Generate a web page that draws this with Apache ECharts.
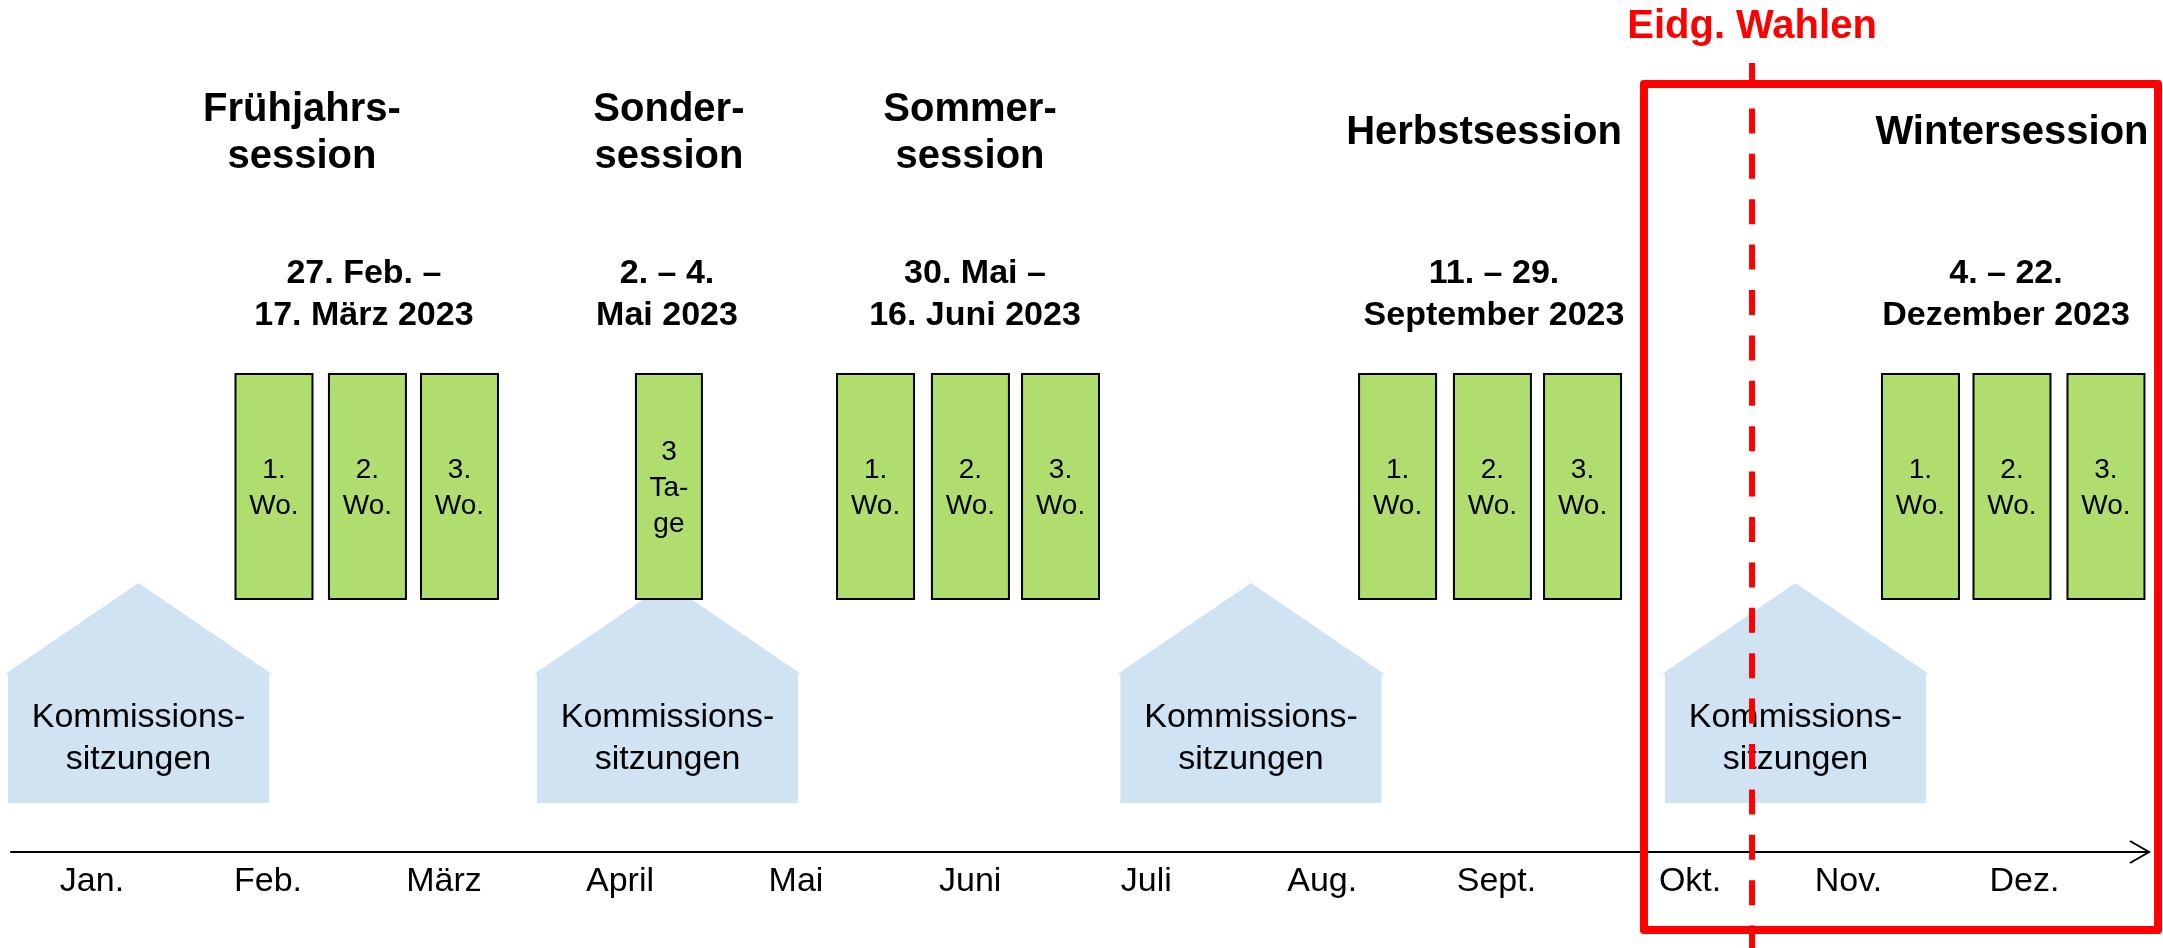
<!DOCTYPE html>
<html>
<head>
<meta charset="utf-8">
<title>Sessionen 2023</title>
<script src="https://cdn.jsdelivr.net/npm/echarts@6/dist/echarts.min.js"></script>
<style>
  html, body { margin: 0; padding: 0; background: #fff; }
  #chart { width: 2163px; height: 948px; }
</style>
</head>
<body>
<div id="chart"></div>
<script>
// x unit = one month, 0 = 1. Januar 2023
var months = ['Jan.', 'Feb.', 'März', 'April', 'Mai', 'Juni', 'Juli', 'Aug.', 'Sept.', 'Okt.', 'Nov.', 'Dez.'];
var monthLabelPos = [0.5, 1.5, 2.5, 3.5, 4.5, 5.49, 6.49, 7.49, 8.48, 9.58, 10.48, 11.48];

var sessionNames = ['Frühjahrs-\nsession', 'Sonder-\nsession', 'Sommer-\nsession', 'Herbstsession', 'Wintersession'];
var sessionDates = ['27. Feb. –\n17. März 2023', '2. – 4.\nMai 2023', '30. Mai –\n16. Juni 2023', '11. – 29.\nSeptember 2023', '4. – 22.\nDezember 2023'];
var sessionNamePos = [1.693, 3.778, 5.489, 8.409, 11.409];
var sessionDatePos = [2.045, 3.767, 5.517, 8.466, 11.375];

// Sitzungswochen (Sondersession: 3 Tage)
var weekLabels = ['1.\nWo.', '2.\nWo.', '3.\nWo.', '3\nTa-\nge', '1.\nWo.', '2.\nWo.', '3.\nWo.',
                  '1.\nWo.', '2.\nWo.', '3.\nWo.', '1.\nWo.', '2.\nWo.', '3.\nWo.'];
var weekPos = [1.534, 2.065, 2.588, 3.778, 4.952, 5.491, 6.003, 7.918, 8.457, 8.969, 10.889, 11.409, 11.943];
var weekIsShort = [0, 0, 0, 1, 0, 0, 0, 0, 0, 0, 0, 0, 0];

var commissionLabel = 'Kommissions-\nsitzungen';
var commissionPos = [0.764, 3.770, 7.085, 10.179];

var electionLabel = 'Eidg. Wahlen';
var electionPos = 9.932;
var highlightRange = [9.318, 12.239];

// layout: y = pixels above the time axis
var X_MIN = 7 / 176, X_MAX = 2145 / 176;
var FONT = '"Liberation Sans", Arial, Helvetica, sans-serif';
var L = {
  barTop: 478, barBottom: 253, barW: 77, barWShort: 66,
  roofTop: 269, eaves: 178, houseBottom: 49, houseW: 1.483, houseText: 113,
  titleY: 719, dateY: 557, monthY: -30,
  boxTop: 768, boxBottom: -78,
  dashTop: 789, dashBottom: -96, electionY: 825
};
var GREEN = '#b0de6e', BLUE = '#cfe3f3', RED = '#ff0000';

function textEl(text, p, size, weight, lineHeight, color) {
  return {
    type: 'text',
    style: {
      text: text, x: p[0], y: p[1], align: 'center', verticalAlign: 'middle',
      fontFamily: FONT, fontSize: size, fontWeight: weight, lineHeight: lineHeight, fill: color || '#000'
    }
  };
}

var chart = echarts.init(document.getElementById('chart'));

chart.setOption({
  animation: false,
  backgroundColor: '#fff',
  grid: { left: 11, right: 14, top: 0, bottom: 96 },
  xAxis: {
    type: 'value', min: X_MIN, max: X_MAX,
    axisLine: { show: true, lineStyle: { color: '#000', width: 2 } },
    axisTick: { show: false }, axisLabel: { show: false }, splitLine: { show: false }
  },
  yAxis: {
    type: 'value', min: 0, max: 852, show: false, splitLine: { show: false }
  },
  series: [
    {
      // Kommissionssitzungen
      type: 'custom', z: 1,
      data: commissionPos.map(function (v) { return [v]; }),
      renderItem: function (params, api) {
        var c = api.value(0), h = L.houseW / 2;
        var apex = api.coord([c, L.roofTop]);
        var el = api.coord([c - h, L.eaves]), er = api.coord([c + h, L.eaves]);
        var bl = api.coord([c - h, L.houseBottom]), br = api.coord([c + h, L.houseBottom]);
        return {
          type: 'group',
          children: [
            {
              type: 'polygon',
              shape: { points: [bl, el, [el[0] - 3, el[1]], apex, [er[0] + 3, er[1]], er, br] },
              style: { fill: BLUE }
            },
            textEl(commissionLabel, api.coord([c, L.houseText]), 34, 'normal', 42)
          ]
        };
      }
    },
    {
      // Sitzungswochen
      type: 'custom', z: 2,
      data: weekPos.map(function (v, i) { return [v, weekIsShort[i], i]; }),
      renderItem: function (params, api) {
        var c = api.value(0), w = api.value(1) ? L.barWShort : L.barW;
        var top = api.coord([c, L.barTop]), bot = api.coord([c, L.barBottom]);
        return {
          type: 'group',
          children: [
            {
              type: 'rect',
              shape: { x: top[0] - w / 2, y: top[1], width: w, height: bot[1] - top[1] },
              style: { fill: GREEN, stroke: '#000', lineWidth: 2 }
            },
            textEl(weekLabels[api.value(2)], [top[0], (top[1] + bot[1]) / 2 + 2], 28, 'normal', 36)
          ]
        };
      }
    },
    {
      // Sessionsnamen
      type: 'custom', z: 3,
      data: sessionNamePos.map(function (v, i) { return [v, i]; }),
      renderItem: function (params, api) {
        return textEl(sessionNames[api.value(1)], api.coord([api.value(0), L.titleY]), 40, 'bold', 47);
      }
    },
    {
      // Sessionsdaten
      type: 'custom', z: 3,
      data: sessionDatePos.map(function (v, i) { return [v, i]; }),
      renderItem: function (params, api) {
        return textEl(sessionDates[api.value(1)], api.coord([api.value(0), L.dateY]), 34, 'bold', 42);
      }
    },
    {
      // Monate
      type: 'custom', z: 3,
      data: monthLabelPos.map(function (v, i) { return [v, i]; }),
      renderItem: function (params, api) {
        return textEl(months[api.value(1)], api.coord([api.value(0), L.monthY]), 34, 'normal', 40);
      }
    },
    {
      // Pfeilspitze der Zeitachse
      type: 'custom', z: 3,
      data: [[X_MAX, 0]],
      renderItem: function (params, api) {
        var tip = api.coord([api.value(0), api.value(1)]);
        return {
          type: 'polyline',
          shape: { points: [[tip[0] - 19, tip[1] - 11], tip, [tip[0] - 19, tip[1] + 11]] },
          style: { stroke: '#000', lineWidth: 2, fill: null }
        };
      }
    },
    {
      // Wahlen: Rahmen, gestrichelte Linie, Beschriftung
      type: 'custom', z: 5,
      data: [[electionPos, highlightRange[0], highlightRange[1]]],
      renderItem: function (params, api) {
        var tl = api.coord([api.value(1), L.boxTop]), br = api.coord([api.value(2), L.boxBottom]);
        var dt = api.coord([api.value(0), L.dashTop]), db = api.coord([api.value(0), L.dashBottom]);
        return {
          type: 'group',
          children: [
            {
              type: 'rect',
              shape: { x: tl[0], y: tl[1], width: br[0] - tl[0], height: br[1] - tl[1] },
              style: { fill: null, stroke: RED, lineWidth: 8, lineJoin: 'round' }
            },
            {
              type: 'line',
              shape: { x1: dt[0], y1: dt[1], x2: db[0], y2: db[1] },
              style: { stroke: RED, lineWidth: 6, lineDash: [25, 20.4] }
            },
            textEl(electionLabel, api.coord([api.value(0), L.electionY]), 40, 'bold', 47, RED)
          ]
        };
      }
    }
  ]
});
</script>
</body>
</html>
